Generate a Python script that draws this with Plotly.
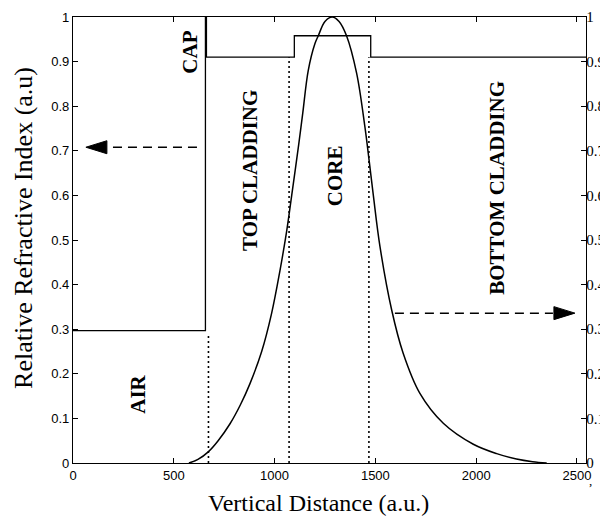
import plotly.graph_objects as go

# ---- data ----
# refractive index step profile
index_x = [0, 657, 657, 662, 662, 1098, 1098, 1477, 1477, 2545]
index_y = [0.297, 0.297, 1.0, 1.0, 0.91, 0.91, 0.958, 0.958, 0.91, 0.91]

# optical mode intensity profile
mode_x = [575, 620, 671, 720, 779, 830, 878, 936, 985, 1027, 1060, 1085, 1120, 1140,
          1167, 1200, 1217, 1250, 1286, 1320, 1357, 1407, 1448, 1470, 1490, 1523,
          1581, 1638, 1721, 1837, 1986, 2102, 2200, 2280, 2350]
mode_y = [0.0, 0.008, 0.025, 0.05, 0.088, 0.13, 0.178, 0.25, 0.335, 0.432, 0.52, 0.6,
          0.715, 0.785, 0.88, 0.94, 0.958, 0.99, 1.0, 0.99, 0.958, 0.874, 0.754, 0.675,
          0.6, 0.485, 0.343, 0.246, 0.156, 0.089, 0.042, 0.021, 0.009, 0.003, 0.0]

# layer boundaries (dotted) : x, top y
boundary_x = [672, 1072, 1468]
boundary_top = [0.29, 0.91, 0.91]

# region labels
region_names = ["CAP", "TOP CLADDING", "CORE", "BOTTOM CLADDING", "AIR"]
region_x = [580, 878, 1300, 2103, 322]
region_y = [0.922, 0.657, 0.643, 0.617, 0.155]

# arrows: dashed start, head base, head tip, y level
arrow_left = dict(x_start=615, x_base=169, x_tip=64, y=0.708)
arrow_right = dict(x_start=1597, x_base=2381, x_tip=2490, y=0.336)

x_ticks = [0, 500, 1000, 1500, 2000, 2500]
x_ticklabels = ["0", "500", "1000", "1500", "2000", "2500"]
y_ticks = [0, 0.1, 0.2, 0.3, 0.4, 0.5, 0.6, 0.7, 0.8, 0.9, 1.0]
y_ticklabels = ["0", "0.1", "0.2", "0.3", "0.4", "0.5", "0.6", "0.7", "0.8", "0.9", "1"]

x_range = [0, 2545]
y_range = [0, 1]

fig = go.Figure()

fig.add_trace(go.Scatter(x=index_x, y=index_y, mode="lines",
                         line=dict(color="black", width=1.3), showlegend=False))
fig.add_trace(go.Scatter(x=mode_x, y=mode_y, mode="lines", line_shape="spline",
                         line=dict(color="black", width=1.5, smoothing=1.0), showlegend=False))
for bx, bt in zip(boundary_x, boundary_top):
    fig.add_trace(go.Scatter(x=[bx, bx], y=[0, bt], mode="lines",
                             line=dict(color="black", width=1.6, dash="2px,3px"),
                             showlegend=False))

for a in (arrow_left, arrow_right):
    fig.add_trace(go.Scatter(x=[a["x_start"], a["x_base"]], y=[a["y"], a["y"]],
                             mode="lines", line=dict(color="black", width=1.5, dash="9px,6px"),
                             showlegend=False))

# arrowheads (pixel-sized triangles anchored at tip)
fig.add_shape(type="path", xsizemode="pixel", ysizemode="pixel",
              xanchor=arrow_left["x_tip"], yanchor=arrow_left["y"],
              path="M0,0 L21,6.5 L21,-6.5 Z", fillcolor="black", line=dict(color="black", width=1))
fig.add_shape(type="path", xsizemode="pixel", ysizemode="pixel",
              xanchor=arrow_right["x_tip"], yanchor=arrow_right["y"],
              path="M0,0 L-21,6.5 L-21,-6.5 Z", fillcolor="black", line=dict(color="black", width=1))

# dummy trace on right axis
fig.add_trace(go.Scatter(x=[0], y=[0], yaxis="y2", mode="markers",
                         marker=dict(opacity=0), showlegend=False, hoverinfo="skip"))

for name, rx, ry in zip(region_names, region_x, region_y):
    fig.add_annotation(x=rx, y=ry, text="<b>" + name + "</b>", showarrow=False,
                       textangle=-90, font=dict(family="Liberation Serif", size=21, color="black"))

# axis titles
fig.add_annotation(xref="paper", yref="paper", x=0.4795, y=0, yshift=-40,
                   xanchor="center", yanchor="middle",
                   text="Vertical Distance (a.u.)", showarrow=False,
                   font=dict(family="Liberation Serif", size=24, color="black"))
fig.add_annotation(xref="paper", yref="paper", x=0, xshift=-49, y=0.527,
                   xanchor="center", yanchor="middle",
                   text="Relative Refractive Index (a.u)", showarrow=False, textangle=-90,
                   font=dict(family="Liberation Serif", size=26, color="black"))
fig.add_annotation(xref="paper", yref="paper", x=1, xshift=4, y=0, yshift=-17,
                   xanchor="center", yanchor="middle",
                   text=",", showarrow=False,
                   font=dict(family="Liberation Serif", size=13, color="black"))

tickfont = dict(family="Liberation Sans", size=13, color="black")

# page body has an 8px margin: shrink figure so the plot lands where the reference has it
fig.update_layout(
    width=600, height=508,
    margin=dict(l=65, r=22, t=9, b=53, autoexpand=False),
    plot_bgcolor="white", paper_bgcolor="white",
    xaxis=dict(range=x_range, tickvals=x_ticks, ticktext=x_ticklabels,
               ticks="inside", ticklen=5, tickcolor="black", tickwidth=1,
               showline=True, linecolor="black", linewidth=1.3, mirror="ticks",
               showgrid=False, zeroline=False, tickfont=tickfont),
    yaxis=dict(range=y_range, tickvals=y_ticks, ticktext=y_ticklabels,
               ticks="inside", ticklen=5, tickcolor="black", tickwidth=1,
               showline=True, linecolor="black", linewidth=1.3,
               showgrid=False, zeroline=False, tickfont=tickfont),
    yaxis2=dict(range=y_range, overlaying="y", side="right",
                tickvals=y_ticks, ticktext=y_ticklabels,
                ticks="inside", ticklen=5, tickcolor="black", tickwidth=1,
                showline=True, linecolor="black", linewidth=1.3,
                showgrid=False, zeroline=False, ticklabelstandoff=-4,
                tickfont=dict(family="Liberation Serif", size=15, color="black")),
)

fig.write_html("out.html")
